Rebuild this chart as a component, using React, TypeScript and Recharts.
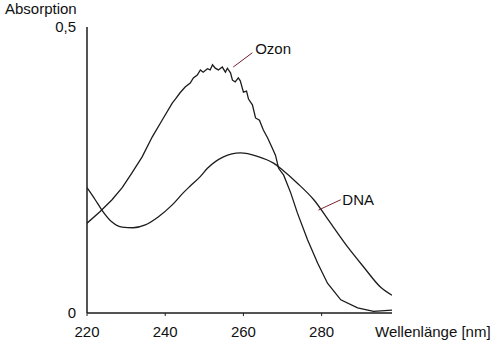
import React from 'react';
import { LineChart, Line, XAxis, YAxis, ReferenceLine, ReferenceDot } from 'recharts';

const ozoneNm = [220, 223.3, 226.4, 229.0, 231.5, 234.1, 236.7, 239.2, 241.8, 242.6, 243.8, 245.1, 246.4, 247.2, 248.2, 249.0, 249.7, 250.8, 251.5, 252.1, 252.8, 253.6, 254.6, 255.4, 255.9, 256.7, 257.2, 257.9, 258.7, 259.2, 260.0, 260.8, 261.3, 262.3, 263.1, 264.1, 265.1, 266.2, 267.4, 268.2, 269.0, 270.3, 272.1, 273.8, 276.4, 279.0, 281.5, 284.9, 289.2, 293.3, 298];
const ozoneAbs = [0.157, 0.177, 0.198, 0.219, 0.245, 0.273, 0.308, 0.337, 0.367, 0.374, 0.385, 0.395, 0.402, 0.411, 0.416, 0.425, 0.421, 0.427, 0.425, 0.434, 0.428, 0.425, 0.430, 0.421, 0.428, 0.420, 0.407, 0.404, 0.411, 0.406, 0.386, 0.388, 0.374, 0.364, 0.341, 0.337, 0.320, 0.306, 0.288, 0.276, 0.253, 0.241, 0.210, 0.175, 0.128, 0.087, 0.052, 0.023, 0.009, 0.003, 0.005];

const dnaNm = [220, 222.1, 223.8, 226.4, 229.0, 231.8, 234.9, 238.2, 241.8, 244.6, 246.4, 248.9, 250.8, 254.9, 259.2, 263.6, 267.7, 270.0, 273.8, 278.0, 282.3, 286.7, 290.8, 295.1, 298];
const dnaAbs = [0.219, 0.198, 0.180, 0.159, 0.150, 0.149, 0.154, 0.168, 0.189, 0.210, 0.222, 0.238, 0.253, 0.273, 0.280, 0.274, 0.262, 0.250, 0.227, 0.198, 0.157, 0.115, 0.080, 0.045, 0.031];

const xTicks = [220, 240, 260, 280];
const yTicks = [0, 0.5];
const yTickLabels = ['0', '0,5'];

const seriesNames = ['Ozon', 'DNA'];
// leader lines [from, to] and label anchor, in data units
const ozonLeader = [{ x: 257.4, y: 0.43 }, { x: 262.3, y: 0.455 }];
const ozonLabelAt = { x: 263.0, y: 0.462 };
const dnaLeader = [{ x: 279.2, y: 0.18 }, { x: 284.9, y: 0.198 }];
const dnaLabelAt = { x: 285.3, y: 0.198 };

const xTitle = 'Wellenlänge [nm]';
const yTitle = 'Absorption';

const ozoneData = ozoneNm.map((x, i) => ({ x, y: ozoneAbs[i] }));
const dnaData = dnaNm.map((x, i) => ({ x, y: dnaAbs[i] }));

const font = '"Liberation Sans", Arial, Helvetica, sans-serif';
const ink = '#1c1c1c';

export default function App() {
  return (
    <div style={{ position: 'absolute', left: 0, top: 0, width: 500, height: 349, background: '#fff' }}>
      <LineChart width={500} height={349} margin={{ top: 27, right: 108, bottom: 6, left: 47 }}>
        <XAxis
          type="number"
          dataKey="x"
          domain={[220, 298]}
          ticks={xTicks}
          interval={0}
          allowDataOverflow
          height={30}
          tickSize={3}
          tickMargin={10}
          axisLine={{ stroke: ink, strokeWidth: 1.5 }}
          tickLine={{ stroke: ink, strokeWidth: 1 }}
          tick={{ fill: '#111', fontSize: 15, fontFamily: font }}
        />
        <YAxis
          type="number"
          dataKey="y"
          domain={[0, 0.5]}
          ticks={yTicks}
          interval={0}
          allowDataOverflow
          width={40}
          tickLine={false}
          tickSize={0}
          tickMargin={11}
          axisLine={{ stroke: ink, strokeWidth: 1.5 }}
          tick={{ fill: '#111', fontSize: 15, fontFamily: font }}
          tickFormatter={(v: number) => yTickLabels[yTicks.indexOf(v)] ?? String(v)}
        />
        <Line data={ozoneData} dataKey="y" name={seriesNames[0]} type="linear" stroke={ink} strokeWidth={1.3} dot={false} isAnimationActive={false} />
        <Line data={dnaData} dataKey="y" name={seriesNames[1]} type="monotone" stroke={ink} strokeWidth={1.3} dot={false} isAnimationActive={false} />
        <ReferenceLine segment={ozonLeader} stroke="#7a2030" strokeWidth={1} ifOverflow="visible" />
        <ReferenceLine segment={dnaLeader} stroke="#7a2030" strokeWidth={1} ifOverflow="visible" />
        <ReferenceDot
          x={ozonLabelAt.x}
          y={ozonLabelAt.y}
          r={0}
          ifOverflow="visible"
          label={{ value: seriesNames[0], position: 'right', offset: 0, fill: '#111', fontSize: 15, fontFamily: font }}
        />
        <ReferenceDot
          x={dnaLabelAt.x}
          y={dnaLabelAt.y}
          r={0}
          ifOverflow="visible"
          label={{ value: seriesNames[1], position: 'right', offset: 0, fill: '#111', fontSize: 15, fontFamily: font }}
        />
        <text x={5} y={14} fontSize={15} fontFamily={font} fill="#111">{yTitle}</text>
        <text x={375} y={337} fontSize={15} fontFamily={font} fill="#111">{xTitle}</text>
      </LineChart>
    </div>
  );
}
